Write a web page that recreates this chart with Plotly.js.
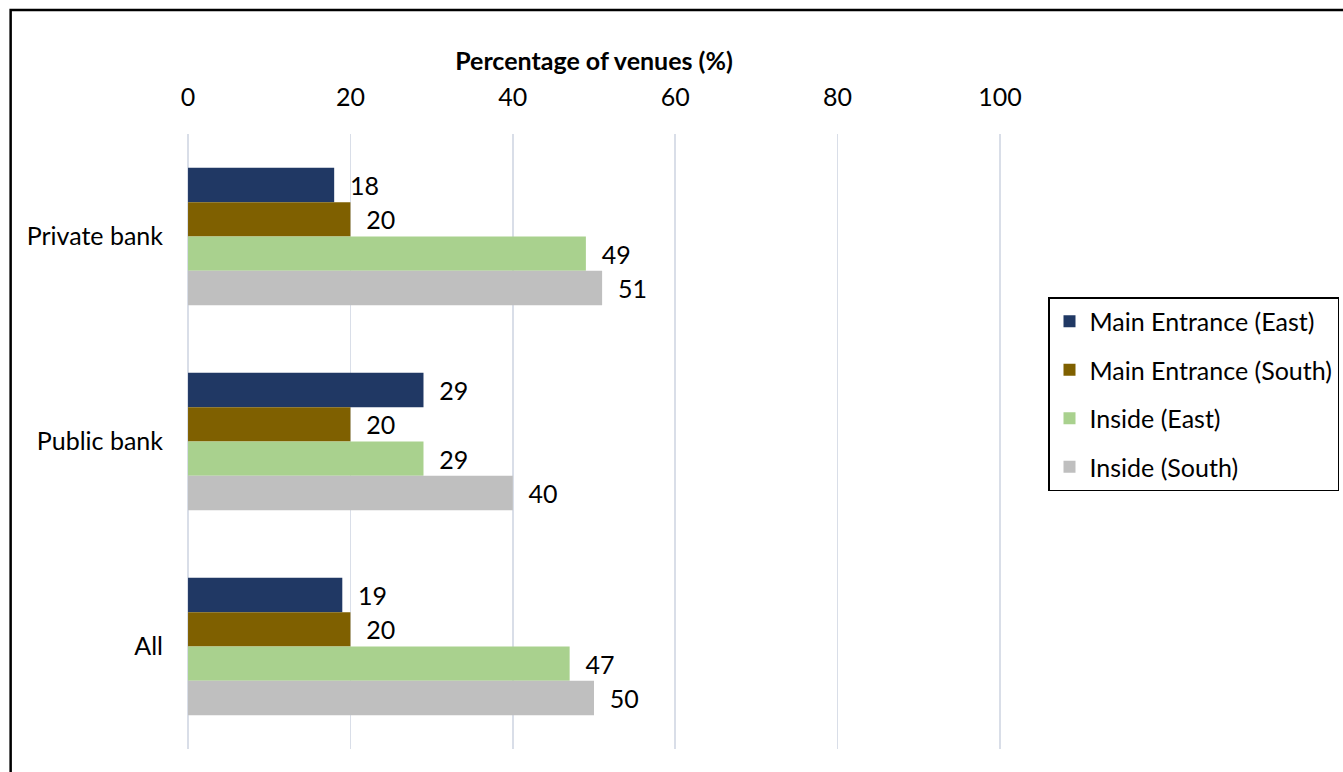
<!DOCTYPE html>
<html>
<head>
<meta charset="utf-8">
<script src="https://cdn.plot.ly/plotly-3.0.1.min.js"></script>
<style>
  html, body { margin: 0; padding: 0; background: #fff; }
  #chart { width: 1343px; height: 772px; }
</style>
</head>
<body>
<div id="chart"></div>
<script>
// Venue groups (top to bottom)
const venues = ['Private bank', 'Public bank', 'All'];

// Share of venues per measurement location (%)
const mainEntranceEast  = [18, 29, 19];
const mainEntranceSouth = [20, 20, 20];
const insideEast        = [49, 29, 47];
const insideSouth       = [51, 40, 50];

const seriesNames = ['Main Entrance (East)', 'Main Entrance (South)', 'Inside (East)', 'Inside (South)'];
const seriesValues = [mainEntranceEast, mainEntranceSouth, insideEast, insideSouth];
const seriesColors = ['#203864', '#7f6000', '#a9d18e', '#bfbfbf'];

const xTicks = [0, 20, 40, 60, 80, 100];

const FONT = 'Lato, "Open Sans", sans-serif';
const FS = 25;
const PAD = '\u00a0\u00a0';

const traces = seriesNames.map((name, i) => ({
  type: 'bar',
  orientation: 'h',
  name: name,
  y: venues,
  x: seriesValues[i],
  marker: { color: seriesColors[i], line: { width: 0 } },
  text: seriesValues[i].map(v => PAD + v),
  textposition: 'outside',
  constraintext: 'none',
  cliponaxis: false,
  textfont: { family: FONT, size: FS, color: '#000' },
  legendgroup: 'g' + i,
  hoverinfo: 'x+name'
}));

const layout = {
  width: 1343,
  height: 772,
  paper_bgcolor: '#fff',
  plot_bgcolor: '#fff',
  margin: { l: 185.5, r: 341, t: 134, b: 23, pad: 0, autoexpand: false },
  barmode: 'group',
  bargap: 0.33,
  bargroupgap: 0,
  font: { family: FONT, size: FS, color: '#000' },
  xaxis: {
    side: 'top',
    // a little slack so the 0 and 100 grid lines are kept
    range: [-0.25, 100.25],
    tickvals: xTicks,
    ticktext: xTicks.map(String),
    showgrid: true,
    gridcolor: '#d9dee8',
    gridwidth: 1.5,
    zeroline: false,
    showline: false,
    ticks: '',
    ticklabelstandoff: 22,
    tickfont: { family: FONT, size: FS, color: '#000' },
    automargin: false,
    title: {
      text: '<b>Percentage of venues (%)</b>',
      font: { family: FONT, size: FS, color: '#000' },
      standoff: 3
    },
    fixedrange: true
  },
  yaxis: {
    autorange: 'reversed',
    showgrid: false,
    zeroline: false,
    showline: false,
    ticks: '',
    ticklabelstandoff: 22,
    tickfont: { family: FONT, size: FS, color: '#000' },
    automargin: false,
    fixedrange: true
  },
  legend: {
    xref: 'container',
    yref: 'container',
    x: 1048 / 1343,
    y: 1 - 297 / 772,
    xanchor: 'left',
    yanchor: 'top',
    bordercolor: '#000',
    borderwidth: 1.5,
    bgcolor: '#fff',
    traceorder: 'grouped',
    tracegroupgap: 13,
    font: { family: FONT, size: FS, color: '#000' }
  },
  shapes: [{
    type: 'rect',
    xref: 'paper', yref: 'paper',
    x0: -0.2149, x1: 1.5,
    y0: -0.2, y1: 1.2016,
    line: { color: '#000', width: 2.5 },
    fillcolor: 'rgba(0,0,0,0)',
    layer: 'above'
  }],
  showlegend: true
};

Plotly.newPlot('chart', traces, layout, { displayModeBar: false, staticPlot: true });
</script>
</body>
</html>
